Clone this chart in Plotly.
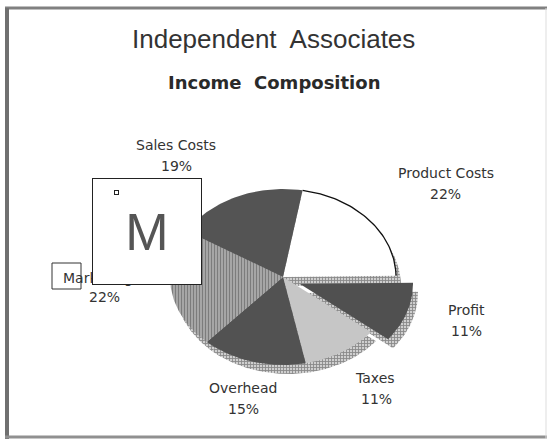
import math
import plotly.graph_objects as go

# ---- data ----
labels = ["Product Costs", "Profit", "Taxes", "Overhead", "Marketing", "Sales Costs"]
values = [22, 11, 11, 15, 22, 19]
title_text = "Independent  Associates"
subtitle_text = "Income  Composition"

# ---- geometry / style (pixel-like data coordinates) ----
W, H = 547, 439
CX, CY, RX, RY = 283, 277, 113, 88
START_DEG = 80          # first slice starts here, clockwise
DEPTH = (5, 9)          # 3-D side offset
EXPLODE = {"Profit": (17, 7)}

face_style = {
    "Product Costs": dict(fillcolor="#ffffff"),
    "Profit": dict(fillcolor="#505050"),
    "Taxes": dict(fillcolor="#c6c6c6"),
    "Overhead": dict(fillcolor="#525252"),
    "Marketing": dict(fillcolor="#8a8a8a",
                      fillpattern=dict(shape="|", fgcolor="#444444", bgcolor="#b4b4b4",
                                       size=3, solidity=0.5)),
    "Sales Costs": dict(fillcolor="#545454"),
}
side_style = dict(fillcolor="#888888",
                  fillpattern=dict(shape="+", fgcolor="#444444", bgcolor="#cfcfcf",
                                   size=3, solidity=0.5))

label_pos = {
    "Sales Costs": ((176, 145), (176, 166)),
    "Product Costs": ((446, 173), (445, 194)),
    "Profit": ((466, 310), (466, 331)),
    "Taxes": ((375, 378), (376, 399)),
    "Overhead": ((243, 388), (243, 409)),
    "Marketing": ((104, 278), (104, 297)),
}
LABEL_FONT = dict(family="DejaVu Sans", size=14, color="#333333")


def slice_poly(a0, a1, off=(0, 0), n=60):
    xs, ys = [CX + off[0]], [CY + off[1]]
    for i in range(n + 1):
        t = math.radians(a0 + (a1 - a0) * i / n)
        xs.append(CX + off[0] + RX * math.cos(t))
        ys.append(CY + off[1] - RY * math.sin(t))
    xs.append(CX + off[0])
    ys.append(CY + off[1])
    return xs, ys


total = sum(values)
angles = []
a = START_DEG
for v in values:
    a_end = a - 360.0 * v / total
    angles.append((a, a_end))
    a = a_end

fig = go.Figure()

# sides (depth)
for lab, (a0, a1) in zip(labels, angles):
    ox, oy = EXPLODE.get(lab, (0, 0))
    xs, ys = slice_poly(a0, a1, (ox + DEPTH[0], oy + DEPTH[1]))
    fig.add_trace(go.Scatter(x=xs, y=ys, mode="lines", fill="toself",
                             line=dict(width=0, color="rgba(0,0,0,0)"),
                             hoverinfo="skip", showlegend=False, **side_style))

# faces
for lab, (a0, a1) in zip(labels, angles):
    ox, oy = EXPLODE.get(lab, (0, 0))
    xs, ys = slice_poly(a0, a1, (ox, oy))
    fig.add_trace(go.Scatter(x=xs, y=ys, mode="lines", fill="toself",
                             line=dict(width=0, color="rgba(0,0,0,0)"),
                             name=lab, hoverinfo="name", showlegend=False,
                             **face_style[lab]))
    if lab == "Product Costs":
        fig.add_trace(go.Scatter(x=xs[1:-1], y=ys[1:-1], mode="lines",
                                 line=dict(width=1.3, color="#111111"),
                                 hoverinfo="skip", showlegend=False))

annotations = [
    dict(x=W / 2, y=39, text=title_text, showarrow=False,
         font=dict(family="Liberation Sans, Arial", size=26, color="#333333")),
    dict(x=W / 2, y=82, text=subtitle_text, showarrow=False,
         font=dict(family="DejaVu Sans", size=18, color="#2a2a2a", weight="bold")),
]
for lab, v in zip(labels, values):
    (nx, ny), (px, py) = label_pos[lab]
    if lab == "Marketing":
        annotations.append(dict(x=61, y=ny, text=lab, showarrow=False, xanchor="left",
                                font=LABEL_FONT))
    else:
        annotations.append(dict(x=nx, y=ny, text=lab, showarrow=False, font=LABEL_FONT))
    annotations.append(dict(x=px, y=py, text=f"{v}%", showarrow=False, font=LABEL_FONT))

# magnifier (FatBits) box overlay
annotations.append(dict(x=146.5, y=231, text="M", showarrow=False, width=108, height=105,
                        bgcolor="#ffffff", bordercolor="#222222", borderwidth=1, borderpad=0,
                        font=dict(family="Liberation Sans, Arial", size=52, color="#555555")))
annotations.append(dict(x=116, y=192, text=" ", showarrow=False, width=3, height=3,
                        bgcolor="#ffffff", bordercolor="#222222", borderwidth=1, borderpad=0,
                        font=dict(size=2)))

for ann in annotations:
    ann.setdefault("xref", "x")
    ann.setdefault("yref", "y")

shapes = [
    # small locator box around "Ma"
    dict(type="rect", x0=52, y0=263, x1=81, y1=289, line=dict(color="#333333", width=1),
         xref="x", yref="y", layer="above"),
    # page frame
    dict(type="line", x0=5, y0=8, x1=547, y1=8, line=dict(color="#808080", width=3), xref="x", yref="y"),
    dict(type="line", x0=7, y0=8, x1=7, y1=439, line=dict(color="#707070", width=4), xref="x", yref="y"),
    dict(type="line", x0=5, y0=437, x1=547, y1=437, line=dict(color="#909090", width=3), xref="x", yref="y"),
    dict(type="line", x0=546, y0=8, x1=546, y1=439, line=dict(color="#dddddd", width=1), xref="x", yref="y"),
]

fig.update_layout(
    width=W, height=H, margin=dict(l=0, r=0, t=0, b=0),
    paper_bgcolor="#ffffff", plot_bgcolor="#ffffff",
    xaxis=dict(range=[0, W], visible=False, fixedrange=True),
    yaxis=dict(range=[H, 0], visible=False, fixedrange=True),
    annotations=annotations, shapes=shapes, showlegend=False,
)

fig.write_html("out.html", config={"displayModeBar": False},
               post_script="document.body.style.margin='0';document.body.style.overflow='hidden';")
